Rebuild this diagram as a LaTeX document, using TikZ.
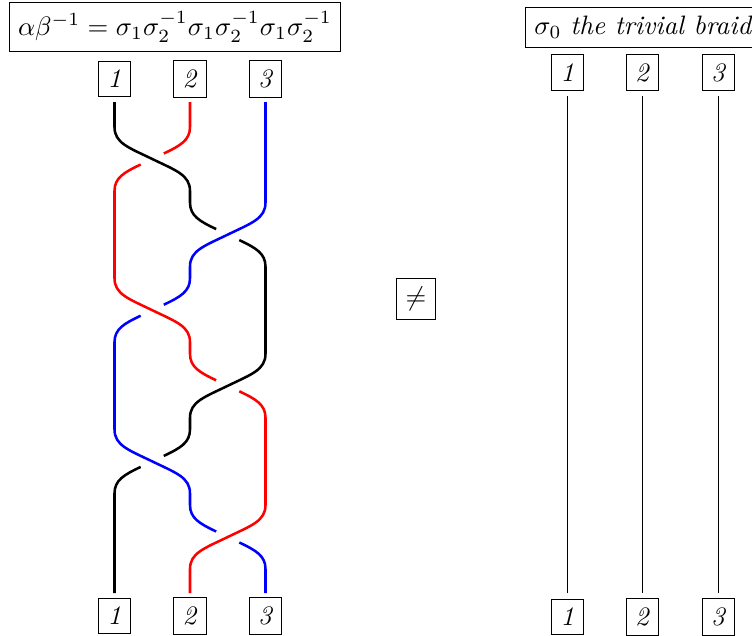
\documentclass[tikz,border=0pt]{standalone}
\tikzset{
  lab/.style={draw,line width=0.4pt,inner sep=3.33pt},
  wire/.style={line width=0.95pt,line cap=butt},
  plain/.style={line width=0.4pt}
}
% full S bend: start column x, crossing height c, direction s
\newcommand\fullbend[3]{-- (#1,#2-32) .. controls (#1,#2-16) and (#1+#3*14,#2-11.5) .. (#1+#3*37.75,#2) .. controls (#1+#3*61.5,#2+11.5) and (#1+#3*75.5,#2+16) .. (#1+#3*75.5,#2+32)}
% half bend running into a crossing from above
\newcommand\intogap[3]{-- (#1,#2-32) .. controls (#1,#2-18.8) and (#1+#3*9.5,#2-13.4) .. (#1+#3*26.2,#2-5.5)}
% half bend leaving a crossing downwards; starts the path
\newcommand\outofgap[3]{(#1+#3*49.3,#2+5.5) .. controls (#1+#3*66,#2+13.4) and (#1+#3*75.5,#2+18.8) .. (#1+#3*75.5,#2+32)}
\begin{document}
\begin{tikzpicture}[x=0.375pt,y=-0.375pt]
\useasboundingbox (0,0) rectangle (752,636);
\clip (0,0) rectangle (752,636);
% titles
\node[lab] (tl) at (175,27) {$\alpha\beta^{-1}=\sigma_1\sigma_2^{-1}\sigma_1\sigma_2^{-1}\sigma_1\sigma_2^{-1}$};
\node[lab,anchor=west] (tr) at (525,27.5) {$\sigma_0$ \textit{the trivial braid}};
\node[lab] (neq) at (416,299) {$\neq$};
% left labels
\node[lab] (a1) at (114.5,79) {\textit{1}};
\node[lab] (a2) at (190,79) {\textit{2}};
\node[lab] (a3) at (265.5,79) {\textit{3}};
\node[lab] (b1) at (114.5,616) {\textit{1}};
\node[lab] (b2) at (190,616) {\textit{2}};
\node[lab] (b3) at (265.5,616) {\textit{3}};
% right labels
\node[lab] (c1) at (567.5,72.5) {\textit{1}};
\node[lab] (c2) at (642.5,72.5) {\textit{2}};
\node[lab] (c3) at (718.5,72.5) {\textit{3}};
\node[lab] (d1) at (567.5,617) {\textit{1}};
\node[lab] (d2) at (642.5,617) {\textit{2}};
\node[lab] (d3) at (718.5,617) {\textit{3}};
% trivial braid
\draw[plain,shorten >=2pt,shorten <=2pt] (c1) -- (d1);
\draw[plain,shorten >=2pt,shorten <=2pt] (c2) -- (d2);
\draw[plain,shorten >=2pt,shorten <=2pt] (c3) -- (d3);
% black
\draw[wire,black] (114.5,102) \fullbend{114.5}{159}{1} \intogap{190}{234.6}{1};
\draw[wire,black] \outofgap{190}{234.6}{1} \fullbend{265.5}{385.8}{-1} \intogap{190}{461.4}{-1};
\draw[wire,black] \outofgap{190}{461.4}{-1} -- (114.5,593);
% red
\draw[wire,red] (190,102) \intogap{190}{159}{-1};
\draw[wire,red] \outofgap{190}{159}{-1} \fullbend{114.5}{310.2}{1} \intogap{190}{385.8}{1};
\draw[wire,red] \outofgap{190}{385.8}{1} \fullbend{265.5}{537}{-1} -- (190,593);
% blue
\draw[wire,blue] (265.5,102) \fullbend{265.5}{234.6}{-1} \intogap{190}{310.2}{-1};
\draw[wire,blue] \outofgap{190}{310.2}{-1} \fullbend{114.5}{461.4}{1} \intogap{190}{537}{1};
\draw[wire,blue] \outofgap{190}{537}{1} -- (265.5,593);
\end{tikzpicture}
\end{document}
